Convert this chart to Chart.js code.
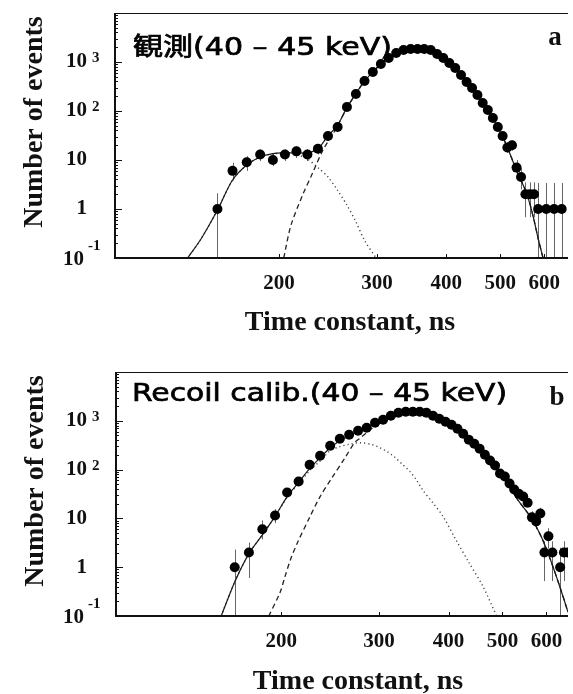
<!DOCTYPE html>
<html>
<head>
<meta charset="utf-8">
<script src="https://cdn.jsdelivr.net/npm/chart.js@4.4.1/dist/chart.umd.min.js"></script>
<style>
  html, body { margin: 0; padding: 0; background: #fff; }
  #wrap { position: relative; width: 573px; height: 694px; overflow: hidden; }
  canvas { position: absolute; left: 0; }
  #chartA { top: 0; }
  #chartB { top: 340px; }
</style>
</head>
<body>
<div id="wrap">
  <canvas id="chartA" width="573" height="340"></canvas>
  <canvas id="chartB" width="573" height="354"></canvas>
</div>
<script>
// axis labels
const xTicks = [200, 300, 400, 500, 600];
const yTicks = [0.1, 1, 10, 100, 1000];
const yTickBase = ['10', '1', '10', '10', '10'];
const yTickExp = ['-1', '', '', '2', '3'];

// panel a : measured (40 - 45 keV)
const aBinNs = [155,165,175,185,195,205,215,225,235,245,255,265,275,285,295,305,315,325,335,345,
                355,365,375,385,395,405,415,425,435,445,455,465,475,485,495,505,515,525,535,545,
                555,565,575,585,595,605,615,625,635,645];
const aCounts = [1,6,9,13,10,13,15,13,17,31,47,121,222,409,625,910,1207,1528,1760,1840,
                 1840,1840,1760,1456,1207,955,755,543,391,294,212,146,105,72,47,31,18,20,7,4.5,
                 2,2,2,1,null,1,null,1,null,1];
const aErrLo = [0.1,3.8,6,9.5,7.5,9.5,11,9.5,13,null,null,null,null,null,null,null,null,null,null,null,
                null,null,null,null,null,null,null,null,null,null,null,null,null,null,null,null,14,15.5,4.5,2.5,
                0.68,0.68,0.68,0.1,null,0.1,null,0.1,null,0.1];
const aErrHi = [2.1,8.8,12,16.5,13.5,16.5,19,16.5,21,null,null,null,null,null,null,null,null,null,null,null,
                null,null,null,null,null,null,null,null,null,null,null,null,null,null,null,null,23,25,10,6.8,
                3.5,3.5,3.5,3.4,null,3.4,null,3.4,null,3.4];
const aFitNs = [137,145,155,165,175,185,195,205,215,225,235,245,255,265,275,285,295,305,315,325,
                335,345,355,365,375,385,395,405,415,425,435,445,455,465,475,485,495,505,515,525,
                535,545,555,565,575,585,597];
const aFitTotal = [0.1,0.25,0.95,3.9,7.9,11.5,13.5,14,14,14,17,31,52,118,225,405,625,910,1220,1530,
                   1750,1830,1840,1780,1640,1440,1200,960,740,540,390,285,200,140,100,70,46,30,18,10.5,
                   6,3.8,2.4,1.3,0.6,0.25,0.1];
const aMainNs = [204,210,220,230,240,250,255,265,275,285,295,305,315,325,335,345,355,365,375,385,
                 395,405,415,425,435,445,455,465,475,485,495,505,515,525,535,545,555,565,575,585,597];
const aMainFit = [0.1,0.45,1.8,5.5,16,34,50,116,225,405,625,910,1220,1530,1750,1830,1840,1780,1640,1440,
                  1200,960,740,540,390,285,200,140,100,70,46,30,18,10.5,6,3.8,2.4,1.3,0.6,0.25,0.1];
const aSecNs = [137,145,155,165,175,185,195,205,215,225,235,245,255,265,275,285,299];
const aSecFit = [0.1,0.25,0.95,3.9,7.9,11.5,13.3,13.8,13,10.5,7,4.5,2.4,1.2,0.55,0.23,0.1];

// panel b : recoil calibration (40 - 45 keV)
const bBinNs = [165,175,185,195,205,215,225,235,245,255,265,275,285,295,305,315,325,335,345,355,
                365,375,385,395,405,415,425,435,445,455,465,475,485,495,505,515,525,535,545,555,
                565,575,585,595,605,615,625,635,645,655];
const bCounts = [1,2,6,11.5,34,57,126,193,309,430,518,625,720,910,1047,1265,1456,1528,1528,1528,
                 1456,1265,1100,955,828,687,543,409,340,268,202,153,121,83,72,52,39,32,28,21,
                 10.5,8.7,12.6,2,4.3,2,null,1,2,2];
const bErrLo = [0.1,0.6,3.7,8,null,null,null,null,null,null,null,null,null,null,null,null,null,null,null,null,
                null,null,null,null,null,null,null,null,null,null,null,null,null,null,null,null,null,null,null,null,
                7.5,6,9,0.52,2.4,0.52,null,0.1,0.52,0.52];
const bErrHi = [2.3,3.2,9.1,15.5,null,null,null,null,null,null,null,null,null,null,null,null,null,null,null,null,
                null,null,null,null,null,null,null,null,null,null,null,null,null,null,null,null,null,null,null,null,
                14,12,16.5,3.4,6.3,3.4,null,2.5,3.4,3.4];
const bFitNs = [156,165,175,185,195,205,215,225,235,245,255,265,275,285,295,305,315,325,335,345,
                355,365,375,385,395,405,415,425,435,445,455,465,475,485,495,505,515,525,535,545,
                555,565,575,585,595,605,615,625,635,645,656];
const bFitTotal = [0.1,0.5,1.9,4.6,11,28,55,105,175,280,390,500,620,740,880,1030,1200,1360,1470,1520,
                   1520,1460,1340,1180,1010,840,680,545,430,335,260,198,150,112,83,60,43,31,22.5,17,
                   13,9.5,6.8,4.6,3,1.85,1.1,0.65,0.38,0.22,0.12];
const bMainNs = [190,199,203,208,214,225,235,247,260,271,278,289,301,315,325,335,345,355,365,375,
                 385,395,405,415,425,435,445,455,465,475,485,495,505,515,525,535,545,555,565,575,
                 585,595,605,615,625,635,645,656];
const bMainFit = [0.1,0.3,0.62,1.46,3.2,10.5,28,69,168,356,450,655,910,1130,1280,1400,1460,1470,1430,1320,
                  1170,1000,840,680,545,430,335,260,198,150,112,83,60,43,31,22.5,17,13,9.5,6.8,
                  4.6,3,1.85,1.1,0.65,0.38,0.22,0.12];
const bSecNs = [156,165,175,185,195,205,215,225,235,245,255,265,277,290,300,310,320,330,341,350,
                360,376,391,412,435,461,488];
const bSecFit = [0.1,0.5,1.9,4.6,11,27,52,95,150,245,295,330,356,330,285,235,180,130,91,62,
                 37,20,11,3.7,1.26,0.41,0.1];

const SERIF = '"Liberation Serif", "Times New Roman", serif';

function pts(xs, ys) {
  return xs.map((x, i) => (ys[i] == null ? null : { x: x, y: ys[i] })).filter(Boolean);
}

function makePanel(id, p) {
  const deco = {
    id: 'deco',
    beforeDatasetsDraw(chart) {
      // error bars
      const { ctx, chartArea: a, scales: { x, y } } = chart;
      ctx.save();
      ctx.beginPath();
      ctx.rect(a.left, a.top, a.right - a.left, a.bottom - a.top);
      ctx.clip();
      ctx.strokeStyle = '#666';
      ctx.lineWidth = 1;
      p.binNs.forEach((t, i) => {
        if (p.errLo[i] == null) return;
        const px = Math.round(x.getPixelForValue(t)) + 0.5;
        ctx.beginPath();
        ctx.moveTo(px, y.getPixelForValue(p.errLo[i]));
        ctx.lineTo(px, y.getPixelForValue(p.errHi[i]));
        ctx.stroke();
      });
      ctx.restore();
    },
    afterDraw(chart) {
      const { ctx, chartArea: a, scales: { x, y } } = chart;
      ctx.save();
      ctx.strokeStyle = '#111';
      // frame (no right edge, the figure is cut there)
      ctx.lineWidth = 1;
      ctx.beginPath(); ctx.moveTo(a.left, a.top + 0.5); ctx.lineTo(a.right, a.top + 0.5); ctx.stroke();
      ctx.lineWidth = 2;
      ctx.beginPath(); ctx.moveTo(a.left + 1, a.top); ctx.lineTo(a.left + 1, a.bottom); ctx.stroke();
      ctx.beginPath(); ctx.moveTo(a.left, a.bottom); ctx.lineTo(a.right, a.bottom); ctx.stroke();

      // y ticks, inside
      ctx.lineWidth = 1;
      for (let e = -1; e <= 4; e++) {
        for (let m = 1; m < 10; m++) {
          const v = m * Math.pow(10, e);
          if (v > 10000) break;
          const py = Math.round(y.getPixelForValue(v)) + 0.5;
          const len = m === 1 ? 8 : 4;
          ctx.beginPath(); ctx.moveTo(a.left, py); ctx.lineTo(a.left + len, py); ctx.stroke();
        }
      }
      // x ticks
      xTicks.forEach(v => {
        const px = Math.round(x.getPixelForValue(v)) + 0.5;
        ctx.beginPath(); ctx.moveTo(px, a.bottom); ctx.lineTo(px, a.bottom - 4); ctx.stroke();
      });

      ctx.fillStyle = '#111';
      // x tick labels
      ctx.font = 'bold 21px ' + SERIF;
      ctx.textAlign = 'center';
      ctx.textBaseline = 'alphabetic';
      xTicks.forEach(v => ctx.fillText(String(v), x.getPixelForValue(v), p.xTickBaseline));

      // y tick labels with exponents
      yTicks.forEach((v, i) => {
        const py = y.getPixelForValue(v);
        const neg = yTickExp[i].charAt(0) === '-';
        ctx.font = 'bold 21px ' + SERIF;
        ctx.textAlign = 'right';
        ctx.textBaseline = 'middle';
        ctx.fillText(yTickBase[i], neg ? 84 : 87, py + (neg ? 2 : 0));
        if (yTickExp[i]) {
          ctx.font = 'bold 15px ' + SERIF;
          ctx.textAlign = 'left';
          ctx.textBaseline = 'alphabetic';
          ctx.fillText(yTickExp[i], neg ? 88 : 92, py + (neg ? -8 : 0));
        }
      });

      // axis titles
      ctx.font = 'bold 28px ' + SERIF;
      ctx.textAlign = 'center';
      ctx.textBaseline = 'alphabetic';
      ctx.fillText('Time constant, ns', p.xTitleX, p.xTitleBaseline);
      ctx.save();
      ctx.translate(p.yTitleBaselineX, p.yTitleY);
      ctx.rotate(-Math.PI / 2);
      ctx.fillText('Number of events', 0, 0);
      ctx.restore();

      // panel letter
      ctx.font = 'bold 27px ' + SERIF;
      ctx.fillText(p.letter, p.letterX, p.letterBaseline);

      // note inside the plot
      ctx.fillStyle = '#000';
      ctx.strokeStyle = '#000';
      ctx.lineWidth = 0.7;
      ctx.font = '25px "DejaVu Sans", "Noto Sans CJK JP", sans-serif';
      ctx.textAlign = 'left';
      const w = ctx.measureText(p.note).width;
      ctx.save();
      ctx.translate(p.noteX, p.noteBaseline);
      ctx.scale(p.noteWidth / w, 1);
      ctx.fillText(p.note, 0, 0);
      ctx.strokeText(p.note, 0, 0);
      ctx.restore();

      ctx.restore();
    }
  };

  return new Chart(document.getElementById(id), {
    type: 'scatter',
    data: {
      datasets: [
        { data: pts(p.binNs, p.counts), pointRadius: 5, backgroundColor: '#000', borderColor: '#000', borderWidth: 0 },
        { data: pts(p.fitNs, p.fitTotal), showLine: true, pointRadius: 0, borderColor: '#1a1a1a', borderWidth: 1.2, tension: 0.3 },
        { data: pts(p.mainNs, p.mainFit), showLine: true, pointRadius: 0, borderColor: '#222', borderWidth: 1.3, borderDash: [5, 3.5], tension: 0.3 },
        { data: pts(p.secNs, p.secFit), showLine: true, pointRadius: 0, borderColor: '#444', borderWidth: 1.4, borderDash: [1.2, 3], tension: 0.3 }
      ]
    },
    options: {
      responsive: false,
      animation: false,
      devicePixelRatio: 1,
      layout: { padding: { top: p.padTop, left: 0, right: 0, bottom: 0 } },
      plugins: { legend: { display: false }, tooltip: { enabled: false } },
      scales: {
        x: {
          type: 'logarithmic', min: p.xMin, max: p.xMax,
          ticks: { display: false }, grid: { display: false }, border: { display: false },
          afterFit(s) { s.height = p.xAxisHeight; }
        },
        y: {
          type: 'logarithmic', min: 0.1, max: 10000,
          ticks: { display: false }, grid: { display: false }, border: { display: false },
          afterFit(s) { s.width = p.yAxisWidth; }
        }
      }
    },
    plugins: [deco]
  });
}

makePanel('chartA', {
  binNs: aBinNs, counts: aCounts, errLo: aErrLo, errHi: aErrHi,
  fitNs: aFitNs, fitTotal: aFitTotal, mainNs: aMainNs, mainFit: aMainFit, secNs: aSecNs, secFit: aSecFit,
  padTop: 13, yAxisWidth: 114, xAxisHeight: 82, xMin: 101, xMax: 662,
  xTickBaseline: 289, xTitleX: 350, xTitleBaseline: 330,
  yTitleBaselineX: 42, yTitleY: 122,
  letter: 'a', letterX: 555, letterBaseline: 45,
  note: '観測(40 – 45 keV)', noteX: 133, noteBaseline: 55, noteWidth: 259
});

makePanel('chartB', {
  binNs: bBinNs, counts: bCounts, errLo: bErrLo, errHi: bErrHi,
  fitNs: bFitNs, fitTotal: bFitTotal, mainNs: bMainNs, mainFit: bMainFit, secNs: bSecNs, secFit: bSecFit,
  padTop: 32, yAxisWidth: 115, xAxisHeight: 78, xMin: 100.5, xMax: 656,
  xTickBaseline: 307, xTitleX: 358, xTitleBaseline: 349,
  yTitleBaselineX: 43, yTitleY: 141,
  letter: 'b', letterX: 557, letterBaseline: 65,
  note: 'Recoil calib.(40 – 45 keV)', noteX: 132, noteBaseline: 61, noteWidth: 375
});
</script>
</body>
</html>
